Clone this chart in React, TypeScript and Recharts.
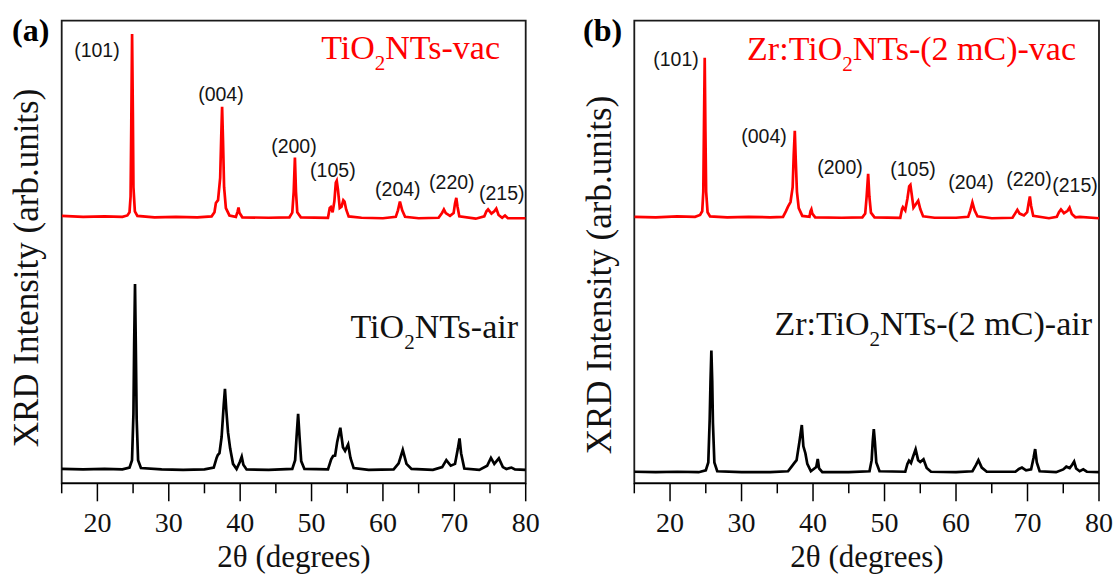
import { LineChart, Line, XAxis, YAxis, ReferenceArea, ReferenceDot } from 'recharts'

// 2θ (deg), intensity (arb. units, 0 = frame bottom, 100 = frame top)
const tiVac = [
  [15, 57.8], [18, 57.6], [21, 57.7], [23.5, 57.6], [24.2, 57.9], [24.5, 58.6], [24.65, 62], [24.75, 78],
  [24.86, 97.1], [24.97, 80], [25.05, 64], [25.25, 58.8], [25.6, 57.8], [28, 57.5], [31, 57.6], [34, 57.5],
  [36.0, 57.7], [36.4, 58.6], [36.6, 60.6], [36.9, 61.2], [37.2, 66], [37.35, 75], [37.47, 81.4], [37.6, 74],
  [37.75, 64], [38.0, 59.5], [38.5, 57.9], [39.4, 57.6], [39.65, 58.8], [39.77, 59.6], [39.9, 58.5], [40.3, 57.5],
  [44, 57.4], [46.9, 57.5], [47.3, 58.5], [47.5, 63], [47.67, 70.4], [47.82, 63], [48.0, 58.6], [48.5, 57.5],
  [52.3, 57.4], [52.55, 59.5], [52.7, 59.7], [52.95, 58.6], [53.2, 61], [53.4, 65], [53.53, 65.4], [53.7, 63.5],
  [53.95, 59.5], [54.2, 59.8], [54.45, 61.2], [54.62, 60.9], [54.85, 59.2], [55.2, 57.7], [57, 57.4], [60, 57.3],
  [61.8, 57.6], [62.1, 59], [62.38, 60.9], [62.7, 59], [63.1, 57.6], [65, 57.3], [67.8, 57.4], [68.3, 58.5],
  [68.54, 59.2], [68.8, 58.4], [69.4, 57.8], [69.9, 58.4], [70.1, 60.5], [70.28, 61.7], [70.45, 59.8], [70.7, 57.7],
  [73, 57.2], [74.2, 57.7], [74.5, 58.8], [74.73, 59.2], [75.2, 58.3], [75.6, 58.8], [75.88, 59.4], [76.2, 58],
  [76.7, 57.4], [77.1, 57.9], [77.5, 57.3], [80, 57.3],
]

const tiAir = [
  [15, 3.1], [18, 3.0], [21, 3.1], [23.5, 3.0], [24.5, 3.4], [24.85, 5], [25.05, 15], [25.15, 30],
  [25.27, 43.1], [25.38, 30], [25.5, 14], [25.7, 5], [26.1, 3.3], [29, 3.0], [32, 2.9], [35, 3.0],
  [36.3, 3.4], [36.7, 5.5], [36.87, 6.1], [37.1, 6.5], [37.4, 10], [37.7, 17], [37.87, 20.4], [38.05, 16],
  [38.3, 11], [38.6, 7.5], [39.0, 4.2], [39.5, 3.1], [39.95, 4.6], [40.22, 5.75], [40.45, 4], [40.9, 3.0],
  [44, 2.9], [47.3, 3.1], [47.7, 5], [47.9, 10], [48.12, 15.0], [48.32, 10], [48.55, 4.8], [49, 3.1],
  [52.3, 3.0], [52.75, 5.2], [53.02, 5.9], [53.3, 6], [53.6, 9], [54.03, 12.0], [54.4, 7.8], [54.7, 7],
  [55.13, 8.4], [55.45, 5.5], [55.9, 3.3], [58, 2.9], [61.5, 3.0], [62.2, 4.3], [62.78, 7.2], [63.3, 4.2],
  [64, 3.1], [67, 2.9], [68.3, 3.5], [68.88, 5.0], [69.5, 3.8], [70.1, 4.2], [70.5, 7.5], [70.73, 9.7],
  [70.95, 6.5], [71.4, 3.2], [73.5, 2.9], [74.6, 3.8], [75.13, 5.5], [75.6, 4.2], [76.24, 5.4], [76.8, 3.5],
  [77.3, 3.1], [78, 3.4], [78.5, 3.0], [80, 2.9],
]

const zrVac = [
  [15, 57.6], [18, 57.5], [21, 57.7], [23.5, 57.6], [24.2, 58], [24.5, 58.8], [24.65, 63], [24.75, 78],
  [24.85, 92.0], [24.95, 76], [25.05, 63], [25.25, 58.6], [25.6, 57.7], [28, 57.5], [31, 57.6], [34, 57.5],
  [35.8, 57.6], [36.2, 58.8], [36.5, 59.8], [36.85, 60.8], [37.15, 64], [37.3, 71], [37.45, 76.2], [37.58, 70],
  [37.75, 63], [38.0, 59.5], [38.5, 57.8], [39.5, 57.6], [39.65, 58.8], [39.77, 59.2], [39.9, 58.3], [40.3, 57.5],
  [44, 57.4], [46.9, 57.5], [47.3, 58.3], [47.5, 62], [47.71, 66.9], [47.88, 62], [48.1, 58.5], [48.6, 57.5],
  [52.2, 57.4], [52.45, 59.3], [52.57, 59.7], [52.9, 59], [53.2, 61.5], [53.45, 64.2], [53.62, 64.5], [53.8, 62.5],
  [54.05, 59.6], [54.4, 60.4], [54.71, 61.1], [55.0, 59.3], [55.4, 57.7], [57, 57.4], [60, 57.4], [61.7, 57.6],
  [62.0, 59], [62.29, 60.7], [62.6, 59], [63.0, 57.7], [65, 57.3], [67.9, 57.4], [68.3, 58.4], [68.58, 59.1],
  [68.9, 58.3], [69.5, 57.9], [69.95, 58.6], [70.15, 60.5], [70.33, 62.0], [70.5, 60], [70.8, 57.8], [73, 57.3],
  [74.1, 57.6], [74.4, 58.6], [74.68, 59.2], [75.1, 58.4], [75.6, 58.9], [75.88, 59.6], [76.2, 58.2], [76.7, 57.5],
  [77.3, 57.6], [80, 57.3],
]

const zrAir = [
  [15, 2.5], [18, 2.4], [21, 2.5], [24, 2.4], [25.0, 2.8], [25.35, 4.5], [25.55, 14], [25.66, 22],
  [25.78, 28.7], [25.9, 22], [26.0, 13], [26.2, 4.5], [26.6, 2.6], [30, 2.4], [34, 2.4], [36.5, 2.6],
  [37.0, 3.6], [37.34, 4.3], [37.7, 5], [38.1, 9], [38.43, 12.6], [38.65, 8], [38.93, 6.5], [39.2, 4.2],
  [39.7, 2.6], [40.45, 3.5], [40.66, 5.25], [40.85, 3.2], [41.3, 2.4], [45, 2.4], [47.9, 2.6], [48.2, 5],
  [48.35, 9], [48.5, 11.7], [48.65, 9], [48.85, 4.5], [49.3, 2.6], [52.9, 2.5], [53.2, 4.2], [53.42, 4.9],
  [53.7, 4.4], [54.0, 5.8], [54.35, 7.35], [54.7, 5], [55.0, 4.6], [55.45, 5.2], [55.9, 3.3], [56.5, 2.5],
  [60, 2.4], [62.3, 2.6], [62.8, 4], [63.13, 5.0], [63.6, 3.4], [64.3, 2.5], [68.3, 2.5], [68.8, 3.1],
  [69.22, 3.4], [69.8, 2.8], [70.5, 3.0], [70.85, 5.5], [71.07, 7.4], [71.3, 4.5], [71.7, 2.6], [74, 2.4],
  [75.0, 3.0], [75.43, 3.6], [75.9, 3.3], [76.25, 4], [76.52, 4.7], [76.8, 3.2], [77.3, 2.6], [77.8, 3.0],
  [78.3, 2.5], [80, 2.4],
]

const xTicks = [15, 20, 25, 30, 35, 40, 45, 50, 55, 60, 65, 70, 75, 80]
const hkl = ['(101)', '(004)', '(200)', '(105)', '(204)', '(220)', '(215)']
// where each hkl label sits, in 2θ / intensity units
const tiHklAt = [[19.94, 93.7], [37.31, 84.2], [47.53, 72.9], [52.99, 67.7], [62.09, 63.6], [69.65, 65.1], [76.65, 62.8]]
const zrHklAt = [[20.83, 91.7], [33.14, 75.1], [43.77, 68.4], [53.98, 67.9], [62.09, 65.1], [70.2, 65.8], [76.64, 64.5]]

const serif = '"Liberation Serif", "Times New Roman", serif'
const sans = '"Liberation Sans", Arial, sans-serif'
const RED = '#ff0000'

const toRows = (pts: number[][]) => pts.map(([t, i]) => ({ t, i }))

function renderTick(props: any) {
  const { x, y, payload } = props
  const major = payload.value % 10 === 0
  return (
    <g>
      <line x1={x} y1={y} x2={x} y2={y + (major ? 18 : 10)} stroke="#000" strokeWidth={1.5} />
      {major && (
        <text x={x} y={y + 49} textAnchor="middle" fontSize={28} fontFamily={serif} fill="#111">
          {payload.value}
        </text>
      )}
    </g>
  )
}

interface PanelProps {
  vac: number[][]
  air: number[][]
  hklAt: number[][]
  width: number
  margin: { top: number; right: number; bottom: number; left: number }
}

function Panel({ vac, air, hklAt, width, margin }: PanelProps) {
  return (
    <LineChart width={width} height={579} margin={margin}>
      <XAxis
        dataKey="t"
        type="number"
        domain={[15, 80]}
        ticks={xTicks}
        interval={0}
        tick={renderTick}
        tickLine={false}
        tickSize={0}
        tickMargin={0}
        height={95.7}
        axisLine={{ stroke: '#000', strokeWidth: 1.5 }}
        allowDataOverflow
      />
      <YAxis hide type="number" domain={[0, 100]} allowDataOverflow />
      <ReferenceArea x1={15} x2={80} y1={0} y2={100} fill="none" stroke="#1a1a1a" strokeWidth={1.8} ifOverflow="visible" />
      <Line data={toRows(air)} dataKey="i" type="linear" stroke="#000" strokeWidth={2.7} dot={false} isAnimationActive={false} />
      <Line data={toRows(vac)} dataKey="i" type="linear" stroke={RED} strokeWidth={2.7} dot={false} isAnimationActive={false} />
      {hkl.map((h, k) => (
        <ReferenceDot
          key={h}
          x={hklAt[k][0]}
          y={hklAt[k][1]}
          r={0}
          fill="none"
          stroke="none"
          label={{ value: h, position: 'center', fill: '#151515', fontSize: 19.5, fontFamily: sans }}
        />
      ))}
    </LineChart>
  )
}

export default function App() {
  return (
    <div style={{ position: 'absolute', left: 0, top: 0, width: 1116, height: 579, background: '#fff' }}>
      <div style={{ position: 'absolute', left: 0, top: 0 }}>
        <Panel vac={tiVac} air={tiAir} hklAt={tiHklAt} width={560} margin={{ top: 20.7, right: 34.3, bottom: 0, left: 61.7 }} />
      </div>
      <div style={{ position: 'absolute', left: 560, top: 0 }}>
        <Panel vac={zrVac} air={zrAir} hklAt={zrHklAt} width={556} margin={{ top: 20.7, right: 17, bottom: 0, left: 74.3 }} />
      </div>
      <svg width={1116} height={579} style={{ position: 'absolute', left: 0, top: 0, pointerEvents: 'none' }} fontFamily={serif}>
        <text x={12} y={41} fontSize={32} fontWeight="bold" fill="#000">(a)</text>
        <text x={583} y={41} fontSize={32} fontWeight="bold" fill="#000">(b)</text>

        <text transform="translate(37.5,268) rotate(-90)" textAnchor="middle" fontSize={35} fill="#111">XRD Intensity (arb.units)</text>
        <text transform="translate(611,275) rotate(-90)" textAnchor="middle" fontSize={35} fill="#111">XRD Intensity (arb.units)</text>

        <text x={294} y={567} textAnchor="middle" fontSize={31} fill="#111">2θ (degrees)</text>
        <text x={867} y={567} textAnchor="middle" fontSize={31} fill="#111">2θ (degrees)</text>

        <text x={500} y={59} textAnchor="end" fontSize={34} fill={RED}>
          TiO<tspan fontSize={21} dy={11}>2</tspan><tspan dy={-11}>NTs-vac</tspan>
        </text>
        <text x={518} y={338} textAnchor="end" fontSize={34} fill="#111">
          TiO<tspan fontSize={21} dy={11}>2</tspan><tspan dy={-11}>NTs-air</tspan>
        </text>
        <text x={1076} y={60} textAnchor="end" fontSize={34} fill={RED}>
          Zr:TiO<tspan fontSize={21} dy={11}>2</tspan><tspan dy={-11}>NTs-(2 mC)-vac</tspan>
        </text>
        <text x={1092} y={335} textAnchor="end" fontSize={34} fill="#111">
          Zr:TiO<tspan fontSize={21} dy={11}>2</tspan><tspan dy={-11}>NTs-(2 mC)-air</tspan>
        </text>
      </svg>
    </div>
  )
}
